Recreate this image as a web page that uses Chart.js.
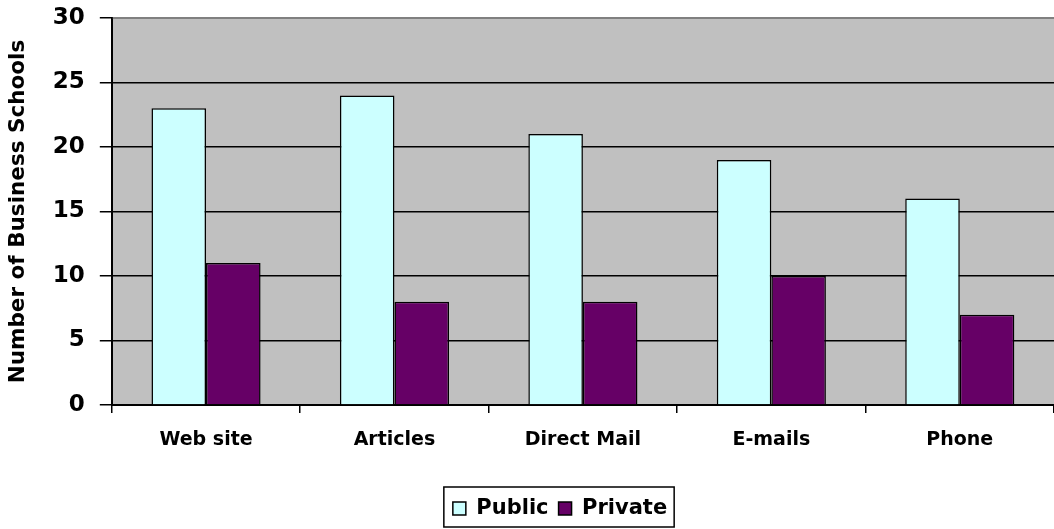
<!DOCTYPE html>
<html>
<head>
<meta charset="utf-8">
<script src="https://cdn.jsdelivr.net/npm/chart.js@4/dist/chart.umd.min.js"></script>
<style>
  html, body { margin: 0; padding: 0; background: #fff; }
  #wrap { width: 1054px; height: 529px; position: relative; }
</style>
</head>
<body>
<div id="wrap"><canvas id="c"></canvas></div>
<script>
// channels of contact, count of schools
const categories = ['Web site', 'Articles', 'Direct Mail', 'E-mails', 'Phone'];
const publicSchools = [23, 24, 21, 19, 16];
const privateSchools = [11, 8, 8, 10, 7];
const yTicks = [0, 5, 10, 15, 20, 25, 30];

// the original text renders wide, DejaVu Sans comes closest in width
const FONT = '"DejaVu Sans", Arial, sans-serif';
const LEGEND_SHIFT = 33; // legend sits a bit right of the canvas centre

const plotFrame = {
  id: 'plotFrame',
  afterLayout(chart) {
    const lg = chart.legend;
    if (!lg) return;
    lg.left += LEGEND_SHIFT;
    lg.right += LEGEND_SHIFT;
    for (const b of lg.legendHitBoxes) b.left += LEGEND_SHIFT;
  },
  beforeDraw(chart) {
    const { ctx, chartArea: a } = chart;
    ctx.save();
    ctx.fillStyle = '#c0c0c0';
    ctx.fillRect(a.left, a.top, a.right - a.left, a.bottom - a.top);
    ctx.restore();
  },
  afterDraw(chart) {
    const { ctx, chartArea: a } = chart;
    ctx.save();
    // grey top edge of the plot
    ctx.strokeStyle = '#808080';
    ctx.lineWidth = 2;
    ctx.beginPath();
    ctx.moveTo(a.left + 1, a.top);
    ctx.lineTo(a.right, a.top);
    ctx.stroke();

    // frame round the legend
    const lg = chart.legend;
    if (lg && lg.legendHitBoxes.length) {
      const boxes = lg.legendHitBoxes;
      const last = boxes[boxes.length - 1];
      const cy = boxes[0].top + boxes[0].height / 2;
      const x0 = boxes[0].left - 9;
      const x1 = last.left + last.width + 7;
      ctx.strokeStyle = '#000';
      ctx.lineWidth = 1.5;
      ctx.strokeRect(x0, cy - 21.5, x1 - x0, 40);
    }
    ctx.restore();
  }
};

new Chart(document.getElementById('c'), {
  type: 'bar',
  data: {
    labels: categories,
    datasets: [
      {
        label: 'Public',
        data: publicSchools,
        backgroundColor: '#ccffff',
        borderColor: '#000',
        borderWidth: 1.5,
        barPercentage: 1.0,
        categoryPercentage: 0.579,
      },
      {
        label: 'Private',
        data: privateSchools,
        backgroundColor: '#660066',
        borderColor: '#000',
        borderWidth: 1.5,
        barPercentage: 1.0,
        categoryPercentage: 0.579,
      },
    ],
  },
  options: {
    responsive: true,
    maintainAspectRatio: false,
    animation: false,
    layout: { padding: { top: 18, right: 0, left: 0, bottom: 0 } },
    scales: {
      x: {
        grid: {
          offset: true,
          drawOnChartArea: false,
          drawTicks: true,
          tickLength: 8,
          color: '#000',
          lineWidth: 1.5,
        },
        border: { color: '#000', width: 2 },
        ticks: {
          color: '#000',
          padding: 16,
          font: { family: FONT, size: 19, weight: 'bold' },
        },
        afterFit: (s) => { s.height = 83; },
      },
      y: {
        min: 0,
        max: 30,
        afterBuildTicks: (axis) => { axis.ticks = yTicks.map(v => ({ value: v })); },
        afterFit: (s) => { s.paddingTop = 0; s.paddingBottom = 0; },
        grid: {
          color: '#000',
          lineWidth: 1.5,
          tickLength: 12,
        },
        border: { color: '#000', width: 2 },
        ticks: {
          color: '#000',
          padding: 15,
          font: { family: FONT, size: 23, weight: 'bold' },
        },
        title: {
          display: true,
          text: 'Number of Business Schools',
          color: '#000',
          padding: { top: 6, bottom: 6 },
          font: { family: FONT, size: 21.5, weight: 'bold' },
        },
      },
    },
    plugins: {
      legend: {
        position: 'bottom',
        labels: {
          color: '#000',
          boxWidth: 13,
          boxHeight: 13,
          padding: 10,
          font: { family: FONT, size: 21, weight: 'bold' },
        },
      },
      tooltip: { enabled: false },
    },
  },
  plugins: [plotFrame],
});
</script>
</body>
</html>
